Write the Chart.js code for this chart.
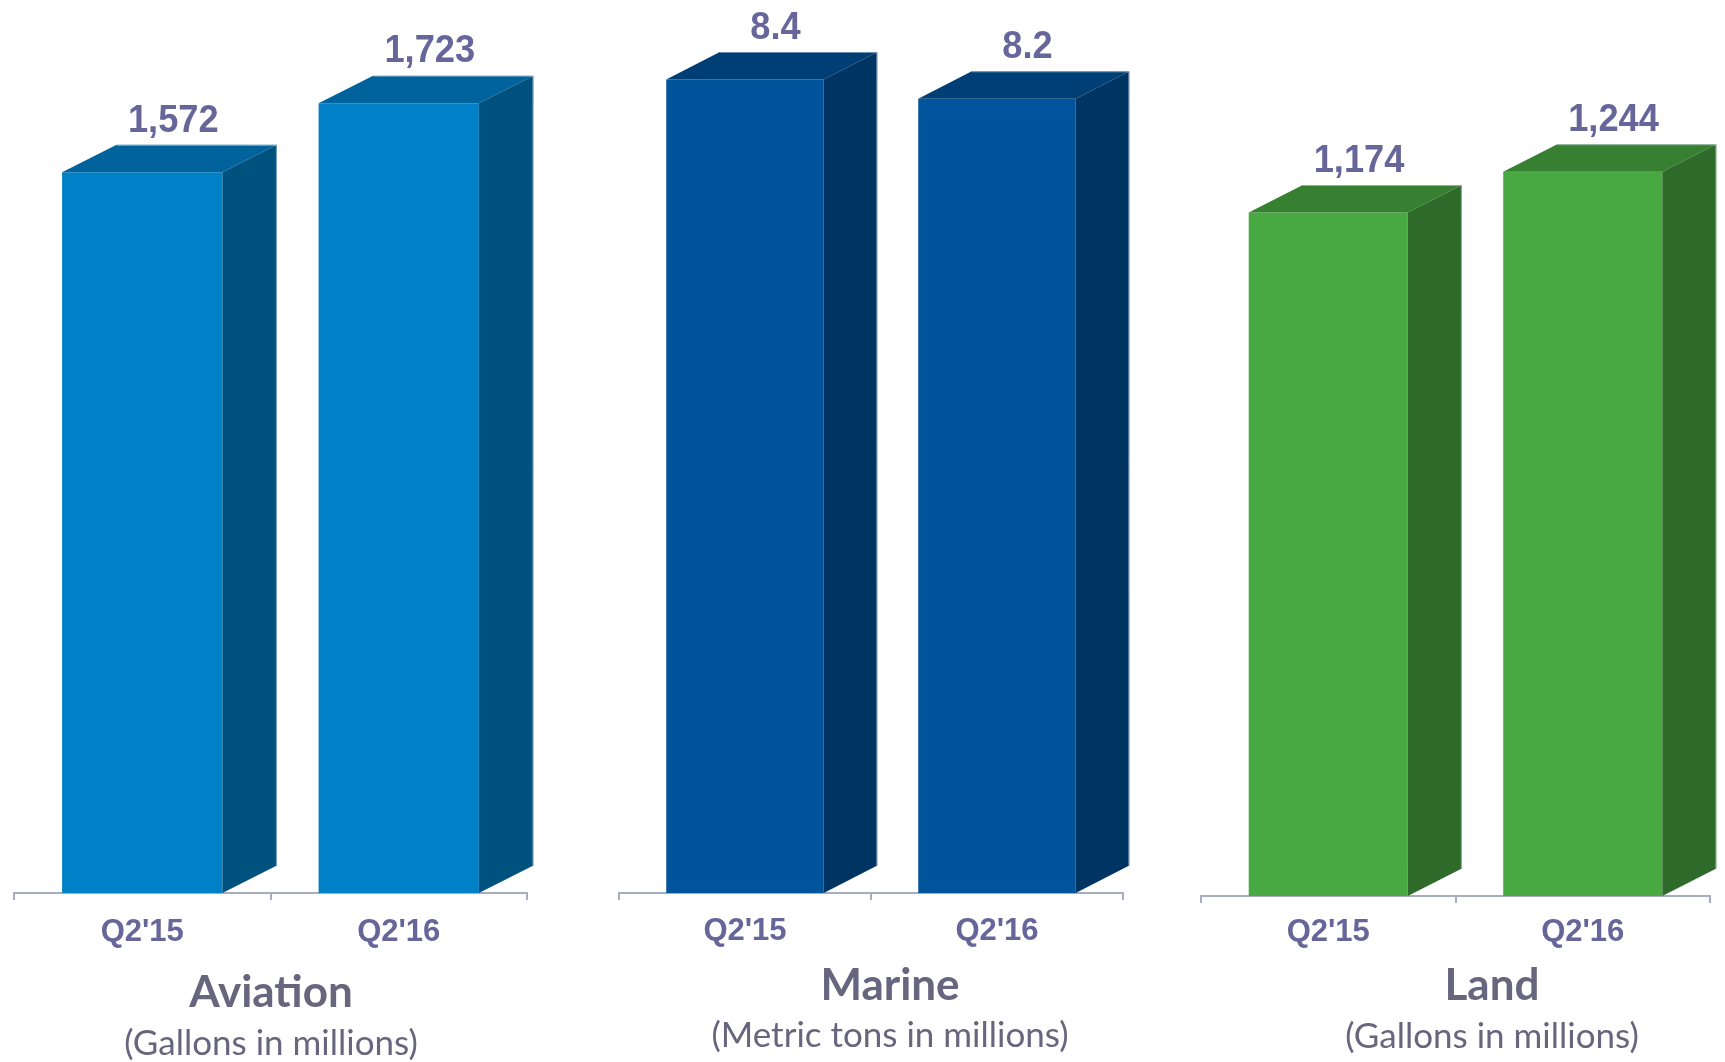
<!DOCTYPE html>
<html>
<head>
<meta charset="utf-8">
<title>Volumes Q2'15 / Q2'16</title>
<script src="https://cdn.jsdelivr.net/npm/chart.js@4.4.1/dist/chart.umd.min.js"></script>
<style>
    html, body { margin: 0; padding: 0; background: #fff; }
    #stage { position: relative; width: 1725px; height: 1062px; overflow: hidden; }
    #stage canvas { position: absolute; top: 0; }
    .cap { position: absolute; width: 500px; text-align: center; white-space: nowrap;
           font-family: Lato, "Open Sans", sans-serif; color: #68657e; line-height: 1.2; }
    .cap__title { font-size: 44px; font-weight: bold; }
    .cap__sub { font-size: 35px; }
</style>
</head>
<body>
<div id="stage"></div>
<script>
// Данные
const quarters = ["Q2'15", "Q2'16"];
const segments = ["Aviation", "Marine", "Land"];
const units = ["(Gallons in millions)", "(Metric tons in millions)", "(Gallons in millions)"];
const aviationVolume = [1572, 1723];
const marineVolume = [8.4, 8.2];
const landVolume = [1174, 1244];

const AXIS_COLOR = "#a6adbe";
const LABEL_COLOR = "#66669a";
const CANVAS_H = 1000;
const TICK_SIZE = 31;
const TICK_LEN = 7;

// Расположение панелей и цвета граней
const panels = [
    { values: aviationVolume, axisLeft: 14, axisRight: 527, axisY: 893, tickY: 932.5, yMax: 1948,
      front: "#0080c6", top: "#00639b", side: "#00527e", capX: 271, titleBase: 1007, subBase: 1055 },
    { values: marineVolume, axisLeft: 619, axisRight: 1123, axisY: 893, tickY: 931, yMax: 9.22,
      front: "#00549c", top: "#003f76", side: "#003463", capX: 890, titleBase: 1000, subBase: 1047 },
    { values: landVolume, axisLeft: 1201, axisRight: 1710, axisY: 896, tickY: 932.5, yMax: 1539,
      front: "#48a942", top: "#377f31", side: "#2e6b2b", capX: 1492, titleBase: 1000, subBase: 1048 }
];

// Верхняя и боковая грани + подпись значения
const box3d = {
    id: "box3d",
    afterDatasetsDraw(chart, args, opts) {
        const ctx = chart.ctx;
        const values = chart.data.datasets[0].data;
        chart.getDatasetMeta(0).data.forEach((bar, i) => {
            let l = bar.x - bar.width / 2;
            let r = bar.x + bar.width / 2;
            let dx = bar.width * 0.34;
            let dy = 27.5;
            ctx.save();
            ctx.fillStyle = opts.top;
            ctx.beginPath();
            ctx.moveTo(l, bar.y);
            ctx.lineTo(l + dx, bar.y - dy);
            ctx.lineTo(r + dx, bar.y - dy);
            ctx.lineTo(r, bar.y);
            ctx.closePath();
            ctx.fill();

            ctx.fillStyle = opts.side;
            ctx.beginPath();
            ctx.moveTo(r, bar.y);
            ctx.lineTo(r + dx, bar.y - dy);
            ctx.lineTo(r + dx, bar.base - dy);
            ctx.lineTo(r, bar.base);
            ctx.closePath();
            ctx.fill();

            // светлая кромка
            ctx.strokeStyle = "rgba(200, 212, 228, 0.6)";
            ctx.lineWidth = 1;
            ctx.beginPath();
            ctx.moveTo(l + dx, bar.y - dy + 0.5);
            ctx.lineTo(r + dx - 0.5, bar.y - dy + 0.5);
            ctx.lineTo(r + dx - 0.5, bar.base - dy);
            ctx.stroke();

            // подпись чуть сжата по ширине, как в оригинале
            ctx.font = "bold 39px 'Liberation Sans', Arial, sans-serif";
            ctx.fillStyle = LABEL_COLOR;
            ctx.textAlign = "center";
            ctx.textBaseline = "middle";
            ctx.translate(bar.x + dx * 0.57, bar.y - dy - 24);
            ctx.scale(0.93, 1);
            ctx.fillText(values[i].toLocaleString("en-US"), 0, 0);
            ctx.restore();
        });
    }
};

const stage = document.getElementById("stage");

panels.forEach((p, i) => {
    let canvas = document.createElement("canvas");
    canvas.width = p.axisRight - p.axisLeft + 70;
    canvas.height = CANVAS_H;
    canvas.style.left = (p.axisLeft - 10) + "px";
    stage.appendChild(canvas);

    let tickPad = p.tickY - p.axisY - TICK_LEN - TICK_SIZE * 1.2 / 2;
    let padBottom = CANVAS_H - p.axisY - TICK_LEN - tickPad - TICK_SIZE * 1.2;

    let chart = new Chart(canvas.getContext("2d"), {
        type: "bar",
        data: {
            labels: quarters,
            datasets: [{
                label: segments[i],
                data: p.values,
                backgroundColor: p.front,
                borderWidth: 0,
                barPercentage: 0.625,
                categoryPercentage: 1
            }]
        },
        options: {
            responsive: false,
            animation: false,
            events: [],
            layout: { padding: { left: 10, right: 60, top: 0, bottom: padBottom } },
            plugins: {
                legend: { display: false },
                tooltip: { enabled: false },
                box3d: { top: p.top, side: p.side }
            },
            scales: {
                x: {
                    grid: {
                        offset: true,
                        drawOnChartArea: false,
                        tickLength: TICK_LEN,
                        color: AXIS_COLOR,
                        lineWidth: 2
                    },
                    border: { display: true, color: AXIS_COLOR, width: 2 },
                    ticks: {
                        padding: tickPad,
                        color: LABEL_COLOR,
                        font: { family: "'Liberation Sans', Arial, sans-serif", size: TICK_SIZE, weight: "bold" }
                    }
                },
                y: { display: false, min: 0, max: p.yMax }
            }
        },
        plugins: [box3d]
    });

    // подгоняем нижний отступ, чтобы ось легла ровно на axisY
    let diff = chart.chartArea.bottom - p.axisY;
    if (Math.abs(diff) > 0.2) {
        chart.config.options.layout.padding.bottom += diff;
        chart.update();
    }

    // Подписи сегмента
    let title = document.createElement("div");
    title.className = "cap cap__title";
    title.textContent = segments[i];
    title.style.left = (p.capX - 250) + "px";
    title.style.top = (p.titleBase - 44 * 0.987) + "px";
    stage.appendChild(title);

    let sub = document.createElement("div");
    sub.className = "cap cap__sub";
    sub.textContent = units[i];
    sub.style.left = (p.capX - 250) + "px";
    sub.style.top = (p.subBase - 35 * 0.987) + "px";
    stage.appendChild(sub);
});
</script>
</body>
</html>
